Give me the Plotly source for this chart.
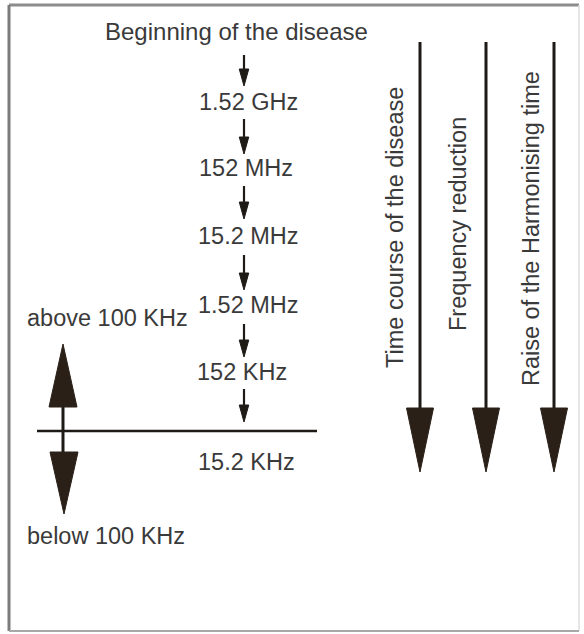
import plotly.graph_objects as go

# ---- content ----
start_label = "Beginning of the disease"
freq_labels = ["1.52 GHz", "152 MHz", "15.2 MHz", "1.52 MHz", "152 KHz", "15.2 KHz"]
side_labels = ["above 100 KHz", "below 100 KHz"]
trend_labels = ["Time course of the disease", "Frequency reduction", "Raise of the Harmonising time"]

# ---- layout constants (pixel coordinates) ----
W, H = 584, 634
FONT = "Liberation Sans, Arial, sans-serif"
TXT = "#3a3a3a"
INK = "#1e1a16"
HEAD = "#2a2018"
FS = 23.5

chain_x = 244
start_y = 31
freq_y = [102, 168, 236, 305, 372, 462]
freq_x = [248, 246, 248, 248, 242, 246]
small_arrows = [(55, 86), (119, 154), (186, 219), (255, 290), (324, 357), (389, 422)]
line_y = 431
line_x = (37, 317)

dbl_x = 63
side_pos = [(107, 318), (106, 536)]

trend_x = [420, 486, 554]
trend_text_x = [395, 458, 531]
trend_text_y = [228, 224, 229]
trend_top = 42
trend_head_base = 408
trend_tip = 472
trend_head_w = 27

fig = go.Figure()
shapes = []
ann = []

# border
shapes.append(dict(type="line", x0=9, y0=5, x1=579, y1=5, line=dict(color="#8c8c8c", width=3)))
shapes.append(dict(type="line", x0=9, y0=5, x1=9, y1=631, line=dict(color="#7c7c7c", width=3)))
shapes.append(dict(type="line", x0=579, y0=5, x1=579, y1=631, line=dict(color="#dedede", width=1.5)))
shapes.append(dict(type="line", x0=9, y0=631, x1=579, y1=631, line=dict(color="#a8a8a8", width=2)))

def txt(x, y, s, size=FS, angle=0):
    ann.append(dict(x=x, y=y, xref="x", yref="y", text=s, showarrow=False,
                    xanchor="center", yanchor="middle", textangle=angle,
                    font=dict(family=FONT, size=size, color=TXT)))

def tri(x, y_base, y_tip, w, color):
    return dict(type="path",
                path=f"M {x - w/2} {y_base} L {x + w/2} {y_base} L {x} {y_tip} Z",
                fillcolor=color, line=dict(color=color, width=1))

# chain of frequencies
txt(236, start_y, start_label, size=24)
for lab, x, y in zip(freq_labels, freq_x, freq_y):
    txt(x, y, lab)
for (y0, y1) in small_arrows:
    shapes.append(dict(type="line", x0=chain_x, y0=y0, x1=chain_x, y1=y1 - 10,
                       line=dict(color=INK, width=2.2)))
    shapes.append(tri(chain_x, y1 - 17, y1, 9.5, INK))

# threshold line
shapes.append(dict(type="line", x0=line_x[0], y0=line_y, x1=line_x[1], y1=line_y,
                   line=dict(color=INK, width=2.6)))

# double arrow
shapes.append(dict(type="line", x0=dbl_x, y0=400, x1=dbl_x, y1=460, line=dict(color=INK, width=3)))
shapes.append(tri(dbl_x, 407, 344, 28, HEAD))
shapes.append(tri(dbl_x + 1, 452, 514, 28, HEAD))
for lab, (x, y) in zip(side_labels, side_pos):
    txt(x, y, lab)

# trend arrows
for x, tx, ty, lab in zip(trend_x, trend_text_x, trend_text_y, trend_labels):
    shapes.append(dict(type="line", x0=x, y0=trend_top, x1=x, y1=trend_head_base + 2,
                       line=dict(color=INK, width=3)))
    shapes.append(tri(x, trend_head_base, trend_tip, trend_head_w, HEAD))
    txt(tx, ty, lab, angle=-90)

fig.update_layout(
    width=W, height=H, margin=dict(l=0, r=0, t=0, b=0),
    paper_bgcolor="white", plot_bgcolor="white",
    xaxis=dict(range=[0, W], visible=False, fixedrange=True),
    yaxis=dict(range=[H, 0], visible=False, fixedrange=True),
    shapes=shapes, annotations=ann, showlegend=False,
)
fig.write_html("out.html", config={"displayModeBar": False},
               post_script="document.body.style.margin='0';document.body.style.overflow='hidden';")
